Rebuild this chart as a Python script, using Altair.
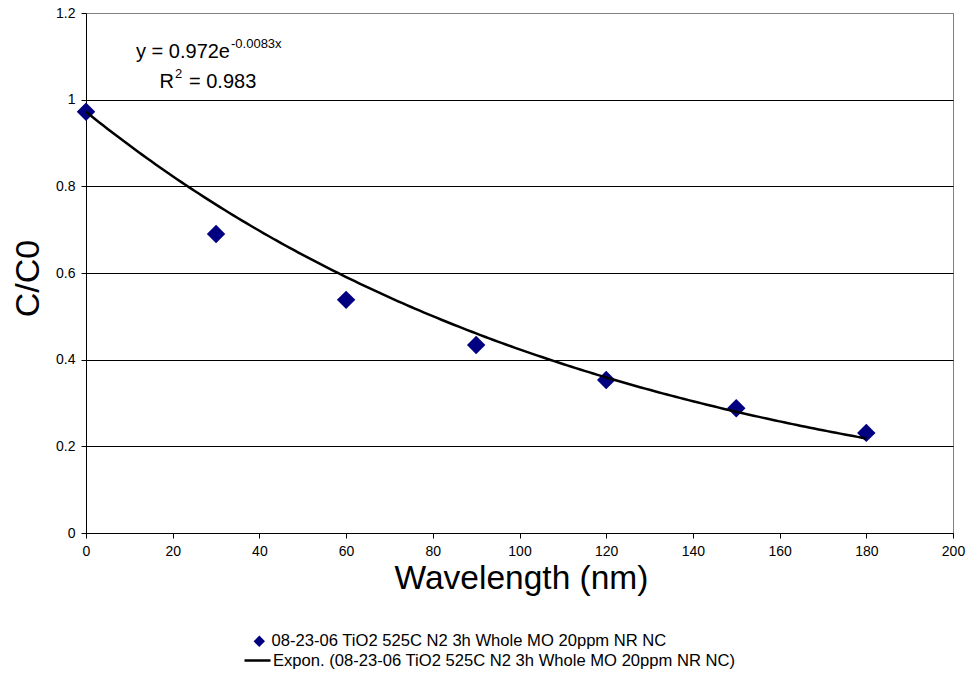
import altair as alt
import pandas as pd

# ---- data ----
time_x = [0, 30, 60, 90, 120, 150, 180]
c_over_c0 = [0.972, 0.690, 0.538, 0.434, 0.353, 0.288, 0.231]
series_name = "08-23-06 TiO2 525C N2 3h Whole MO 20ppm NR NC"
trend_name = "Expon. (08-23-06 TiO2 525C N2 3h Whole MO 20ppm NR NC)"
fit_a = 0.972       # trendline coefficient printed on the chart
fit_b = -0.0083     # trendline exponent printed on the chart
r_squared = 0.983
x_ticks = [0, 20, 40, 60, 80, 100, 120, 140, 160, 180, 200]
y_ticks = [0, 0.2, 0.4, 0.6, 0.8, 1.0, 1.2]

W, H = 867, 520
FONT = "Liberation Sans"
NAVY = "#000080"

points_df = pd.DataFrame({"x": time_x, "y": c_over_c0, "series": series_name})
note_df = pd.DataFrame({"a": [fit_a]})  # single row for annotation text

x_scale = alt.Scale(domain=[0, 200], nice=False, zero=True)
y_scale = alt.Scale(domain=[0, 1.2], nice=False, zero=True)

x_axis = alt.Axis(
    values=x_ticks, grid=False, domainColor="black", tickColor="black",
    tickSize=5, labelFontSize=14, labelColor="black", labelPadding=6,
    labelFlush=False, labelOverlap=False,
    labelFont=FONT, title="Wavelength (nm)", titleFont=FONT, titleFontSize=33.5,
    titleFontWeight="normal", titleColor="black", titleX=435, titleY=55,
    titleBaseline="alphabetic", titleAlign="center",
)
y_axis = alt.Axis(
    values=y_ticks, format="~g", grid=True,
    gridColor={"condition": {"test": "datum.value > 1.1", "value": "#808080"}, "value": "black"},
    gridWidth=1, gridOpacity=1, domainColor="black", tickColor="black",
    tickSize=5, labelFontSize=14, labelColor="black", labelPadding=6,
    labelFlush=False, labelOverlap=False,
    labelFont=FONT, title="C/C0", titleFont=FONT, titleFontSize=34,
    titleFontWeight="normal", titleColor="black", titleAngle=270,
    titleX=-48, titleY=265, titleBaseline="alphabetic", titleAlign="center",
)

points = alt.Chart(points_df).mark_point(
    filled=True, color=NAVY, size=340, opacity=1, strokeWidth=0
).encode(
    x=alt.X("x:Q", scale=x_scale, axis=x_axis),
    y=alt.Y("y:Q", scale=y_scale, axis=y_axis),
    shape=alt.Shape(
        "series:N",
        scale=alt.Scale(domain=[series_name], range=["diamond"]),
        legend=alt.Legend(
            orient="none", legendX=165, legendY=620, title=None,
            labelFont=FONT, labelFontSize=16.6, labelColor="black",
            labelLimit=2000,
            symbolSize=130, symbolFillColor=NAVY, symbolStrokeWidth=0,
            labelOffset=4, padding=0,
        ),
    ),
)

trend = alt.Chart(alt.sequence(0, 180.5, 1, as_="x")).transform_calculate(
    y=f"{fit_a} * exp({fit_b} * datum.x)",
    series=f"'{trend_name}'",
).mark_line(strokeWidth=2.5).encode(
    x=alt.X("x:Q", scale=x_scale, axis=x_axis),
    y=alt.Y("y:Q", scale=y_scale, axis=y_axis),
    color=alt.Color(
        "series:N",
        scale=alt.Scale(domain=[trend_name], range=["black"]),
        legend=alt.Legend(
            orient="none", legendX=157, legendY=633, title=None,
            labelFont=FONT, labelFontSize=16.6, labelColor="black",
            labelLimit=2000,
            symbolType="stroke", symbolSize=676, symbolStrokeWidth=2.5,
            symbolStrokeColor="black", labelOffset=1, padding=0,
        ),
    ),
)

def label(txt, size, align, px, py):
    return alt.Chart(note_df).mark_text(
        text=txt, font=FONT, fontSize=size, fontWeight="normal", align=align,
        baseline="alphabetic", color="black"
    ).encode(x=alt.value(px), y=alt.value(py))

eq_main = label(f"y = {fit_a}e", 20, "right", 144, 45)
eq_sup = label(f"{fit_b}x", 13, "left", 145, 35)
r_main = label("R", 20, "right", 88, 75)
r_sup = label("2", 13, "left", 89, 65)
r_val = label(f"= {r_squared}", 20, "left", 103, 75)

chart = alt.layer(points, trend, eq_main, eq_sup, r_main, r_sup, r_val).properties(
    width=W, height=H, autosize="none",
    padding={"left": 86, "top": 13, "right": 18, "bottom": 140},
    background="white",
).configure_view(stroke="#808080", strokeWidth=1)

chart.save("out.html", embed_options={"renderer": "svg", "actions": False})
